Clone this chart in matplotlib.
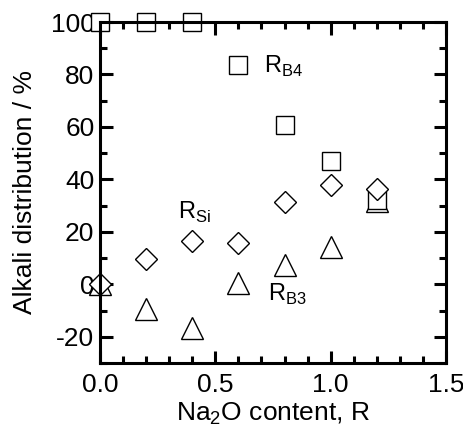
import numpy as np
import matplotlib
matplotlib.use("Agg")
import matplotlib.pyplot as plt

plt.rcParams['font.family'] = ['Liberation Sans', 'DejaVu Sans']
plt.rcParams['axes.unicode_minus'] = False

# Na2O content R
r = [0.0, 0.2, 0.4, 0.6, 0.8, 1.0, 1.2]
# alkali distribution (%)
r_b4 = [100, 100, 100, 83.6, 60.8, 47.1, 32.0]
r_si = [0.0, 9.8, 16.5, 15.9, 31.3, 38.0, 36.4]
r_b3 = [0.0, -9.5, -16.8, 0.6, 7.2, 14.4, 31.6]

fig = plt.figure(figsize=(4.64, 4.26), dpi=100)
ax = fig.add_axes([100 / 464, 1 - 363 / 426, 346 / 464, 341 / 426])

mk = dict(linestyle='none', markerfacecolor='white', markeredgecolor='black',
          markeredgewidth=1.0, clip_on=False)
ax.plot(r, r_b3, marker='^', markersize=16, **mk)
ax.plot(r, r_b4, marker='s', markersize=13, **mk)
ax.plot(r, r_si, marker='D', markersize=11, **mk)

ax.text(0.71, 83, r'R$_{\mathregular{B4}}$', fontsize=17, va='center')
ax.text(0.34, 27.5, r'R$_{\mathregular{Si}}$', fontsize=17, va='center')
ax.text(0.73, -4, r'R$_{\mathregular{B3}}$', fontsize=17, va='center')

ax.set_xlim(0, 1.5)
ax.set_ylim(-30, 100)
ax.set_xticks([0, 0.5, 1.0, 1.5])
ax.set_xticklabels(['0.0', '0.5', '1.0', '1.5'])
ax.set_xticks(np.arange(0, 1.51, 0.1), minor=True)
ax.set_yticks([-20, 0, 20, 40, 60, 80, 100])
ax.set_yticks(np.arange(-30, 101, 10), minor=True)

ax.tick_params(which='both', direction='in', top=True, right=True, width=2.2,
               labelsize=19, pad=4)
ax.tick_params(axis='x', pad=7)
ax.tick_params(which='major', length=9)
ax.tick_params(which='minor', length=5)
for s in ax.spines.values():
    s.set_linewidth(2.2)

ax.set_xlabel(r'Na$_{\mathregular{2}}$O content, R', fontsize=19, labelpad=3)
ax.set_ylabel('Alkali distribution / %', fontsize=19, labelpad=10)

fig.savefig('out.png', dpi=100)
